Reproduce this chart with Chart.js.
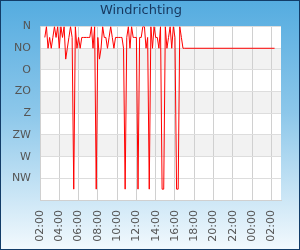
<!DOCTYPE html>
<html>
<head>
<meta charset="utf-8">
<script src="https://cdn.jsdelivr.net/npm/chart.js@4.4.1/dist/chart.umd.min.js"></script>
<style>
  html, body { margin: 0; padding: 0; }
  #wrap {
    position: relative;
    width: 298px;
    height: 248px;
    border: 1px solid #123c68;
    background: linear-gradient(to bottom, #55ace0 0%, #8cc7ea 45%, #f2f9fd 100%);
  }
  canvas { display: block; }
</style>
</head>
<body>
<div id="wrap"><canvas id="wind" width="298" height="248"></canvas></div>
<script>
// minutes after 02:00, one reading every 10 minutes
const times = [
  30, 40, 50, 60, 70, 80, 90, 100, 110, 120,
  130, 140, 150, 160, 170, 180, 190, 200, 210, 220,
  230, 240, 250, 260, 270, 280, 290, 300, 310, 320,
  330, 340, 350, 360, 370, 380, 390, 400, 410, 420,
  430, 440, 450, 460, 470, 480, 490, 500, 510, 520,
  530, 540, 550, 560, 570, 580, 590, 600, 610, 620,
  630, 640, 650, 660, 670, 680, 690, 700, 710, 720,
  730, 740, 750, 760, 770, 780, 790, 800, 810, 820,
  830, 840, 850, 860, 870, 880, 890, 900, 1460,
];

// wind direction in degrees
const directions = [
  22.5, 0, 45, 22.5, 45, 22.5, 0, 22.5, 0, 45,
  0, 22.5, 0, 67.5, 45, 22.5, 0, 22.5, 337.5, 0,
  45, 22.5, 45, 22.5, 22.5, 22.5, 22.5, 22.5, 22.5, 0,
  45, 0, 337.5, 22.5, 67.5, 45, 0, 22.5, 22.5, 45,
  22.5, 0, 22.5, 45, 22.5, 22.5, 22.5, 22.5, 22.5, 45,
  337.5, 22.5, 0, 45, 0, 22.5, 22.5, 22.5, 337.5, 22.5,
  22.5, 0, 0, 45, 22.5, 337.5, 0, 45, 0, 22.5,
  22.5, 45, 0, 337.5, 337.5, 0, 45, 22.5, 0, 45,
  0, 22.5, 337.5, 337.5, 0, 22.5, 45, 45, 45,
];

const compassLabels = ["N", "NO", "O", "ZO", "Z", "ZW", "W", "NW", ""];
const hourLabels = ["02:00", "04:00", "06:00", "08:00", "10:00", "12:00", "14:00",
  "16:00", "18:00", "20:00", "22:00", "00:00", "02:00"];
const bands = [[45, 90], [135, 180], [225, 270]];

const plotArea = {
  id: "plotArea",
  beforeDraw(chart) {
    const { ctx, chartArea, scales } = chart;
    ctx.save();
    ctx.fillStyle = "#ffffff";
    ctx.fillRect(chartArea.left, chartArea.top, chartArea.width, chartArea.height);
    ctx.fillStyle = "#f2f2f2";
    bands.forEach(([from, to]) => {
      const y1 = scales.y.getPixelForValue(from);
      const y2 = scales.y.getPixelForValue(to);
      ctx.fillRect(chartArea.left, y1, chartArea.width, y2 - y1);
    });
    ctx.restore();
  },
};

new Chart(document.getElementById("wind"), {
  type: "line",
  data: {
    datasets: [{
      data: times.map((t, i) => ({ x: t, y: directions[i] })),
      borderColor: "#ff0000",
      borderWidth: 1,
      pointRadius: 0,
      tension: 0,
    }],
  },
  options: {
    responsive: false,
    animation: false,
    layout: { padding: { left: 0, right: 18, top: 0, bottom: 0 } },
    plugins: {
      legend: { display: false },
      tooltip: { enabled: false },
      title: {
        display: true,
        text: "Windrichting",
        color: "#17375e",
        font: { family: "DejaVu Sans", size: 13, weight: "normal" },
        padding: { top: 2, bottom: 8 },
      },
    },
    scales: {
      x: {
        type: "linear",
        min: 0,
        max: 1500,
        ticks: {
          autoSkip: false,
          maxRotation: 90,
          minRotation: 90,
          padding: 10,
          color: "#555555",
          font: { family: "DejaVu Sans", size: 11 },
          callback: (v) => hourLabels[v / 120],
        },
        // one tick every two hours, one per label
        afterBuildTicks: (scale) => {
          scale.ticks = hourLabels.map((_, i) => ({ value: i * 120 }));
        },
        afterFit: (scale) => { scale.height = 49; },
        grid: { color: "#d0d0d0", drawTicks: false },
        border: { color: "#d0d0d0" },
      },
      y: {
        type: "linear",
        reverse: true,
        min: 0,
        max: 360,
        ticks: {
          stepSize: 45,
          padding: 9,
          color: "#555555",
          font: { family: "DejaVu Sans", size: 11 },
          callback: (v) => compassLabels[v / 45],
        },
        afterFit: (scale) => { scale.width = 39; },
        grid: { color: "#dddddd", drawTicks: false },
        border: { color: "#d0d0d0" },
      },
    },
  },
  plugins: [plotArea],
});
</script>
</body>
</html>
